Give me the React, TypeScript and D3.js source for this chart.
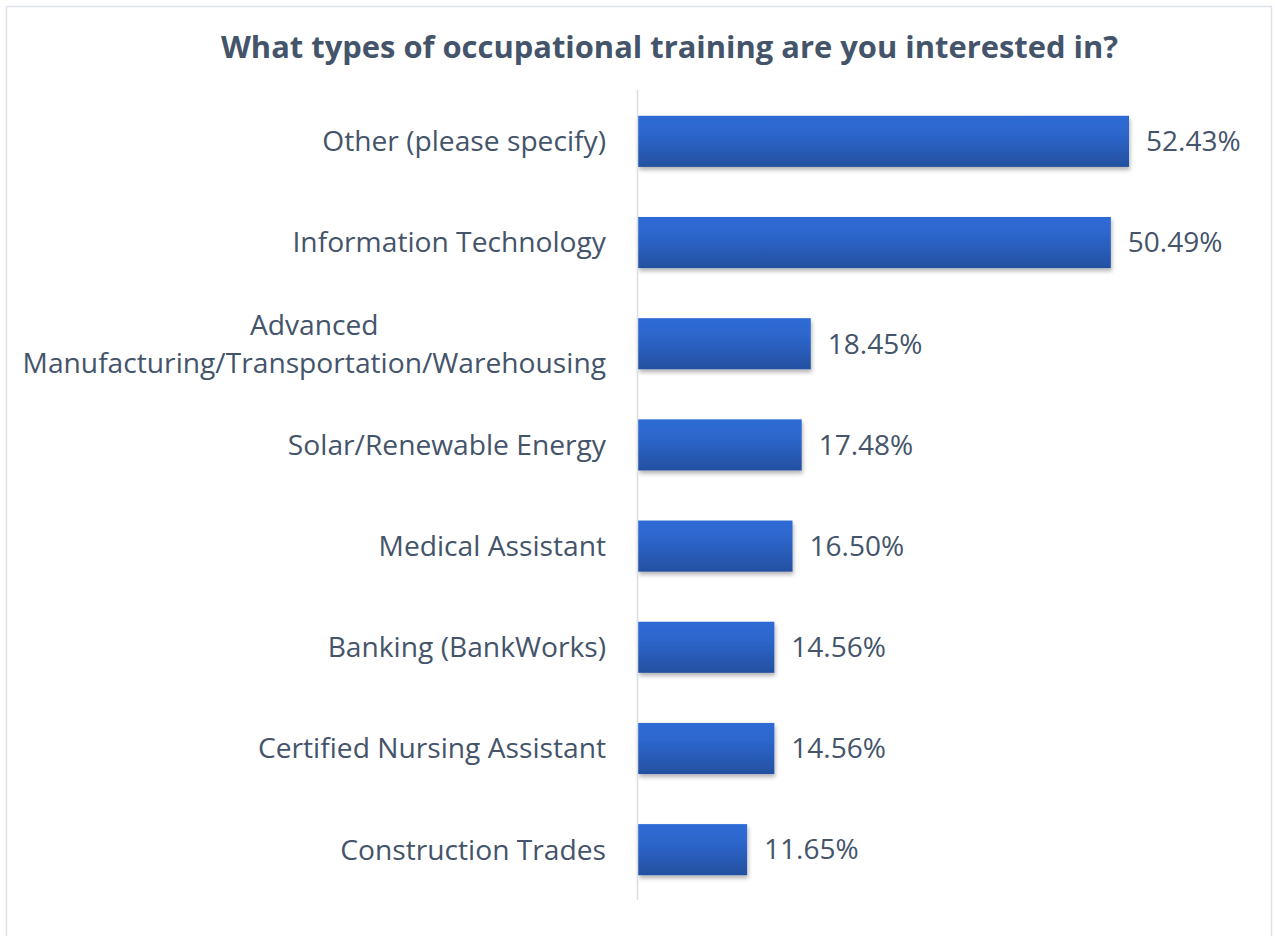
import React, { useEffect, useRef } from 'react';
import * as d3 from 'd3';

const categories = [
  'Other (please specify)',
  'Information Technology',
  'Advanced\nManufacturing/Transportation/Warehousing',
  'Solar/Renewable Energy',
  'Medical Assistant',
  'Banking (BankWorks)',
  'Certified Nursing Assistant',
  'Construction Trades',
];
const values = [52.43, 50.49, 18.45, 17.48, 16.5, 14.56, 14.56, 11.65];
const title = 'What types of occupational training are you interested in?';

const W = 1275;
const H = 936;
const FONT = '"Open Sans", Lato, sans-serif';
const TEXT = '#44546a';

const App = () => {
  const ref = useRef<SVGSVGElement>(null);

  useEffect(() => {
    const svg = d3.select(ref.current);
    svg.selectAll('*').remove();

    const defs = svg.append('defs');
    const grad = defs
      .append('linearGradient')
      .attr('id', 'barGrad')
      .attr('x1', 0)
      .attr('y1', 0)
      .attr('x2', 0)
      .attr('y2', 1);
    grad.append('stop').attr('offset', '0%').attr('stop-color', '#2f6bd6');
    grad.append('stop').attr('offset', '35%').attr('stop-color', '#2d66cc');
    grad.append('stop').attr('offset', '100%').attr('stop-color', '#2350a0');

    const shadow = defs
      .append('filter')
      .attr('id', 'shadow')
      .attr('x', '-5%')
      .attr('y', '-20%')
      .attr('width', '115%')
      .attr('height', '150%');
    shadow
      .append('feDropShadow')
      .attr('dx', 1)
      .attr('dy', 3)
      .attr('stdDeviation', 2)
      .attr('flood-color', '#000')
      .attr('flood-opacity', 0.3);

    // frame
    svg
      .append('rect')
      .attr('x', 6.5)
      .attr('y', 6.5)
      .attr('width', 1265)
      .attr('height', 940)
      .attr('fill', '#fff')
      .attr('stroke', '#dde2ea')
      .attr('stroke-width', 1.5);

    svg
      .append('text')
      .attr('x', 669.5)
      .attr('y', 58)
      .attr('text-anchor', 'middle')
      .style('font-family', FONT)
      .style('font-size', '30.9px')
      .style('font-weight', 'bold')
      .style('fill', TEXT)
      .text(title);

    const x0 = 638;
    const x = d3.scaleLinear().domain([0, 52.43]).range([x0, 1129]);
    const y = d3
      .scaleBand<string>()
      .domain(categories)
      .range([90.5, 900.5])
      .paddingInner(0.495)
      .paddingOuter(0.25);

    const g = svg.append('g');

    g.selectAll('rect.bar')
      .data(values)
      .enter()
      .append('rect')
      .attr('class', 'bar')
      .attr('x', x0)
      .attr('y', (d, i) => y(categories[i])!)
      .attr('width', (d) => x(d) - x0)
      .attr('height', y.bandwidth())
      .attr('fill', 'url(#barGrad)')
      .attr('filter', 'url(#shadow)');

    // axis line
    svg
      .append('line')
      .attr('x1', 637.5)
      .attr('x2', 637.5)
      .attr('y1', 90)
      .attr('y2', 900)
      .attr('stroke', '#d9dde4')
      .attr('stroke-width', 1.5);

    const labels = g
      .selectAll('text.cat')
      .data(categories)
      .enter()
      .append('text')
      .attr('class', 'cat')
      .style('font-family', FONT)
      .style('font-size', '28.2px')
      .style('fill', TEXT);

    labels.each(function (d) {
      const lines = d.split('\n');
      const cy = y(d)! + y.bandwidth() / 2;
      const t = d3.select(this);
      if (lines.length === 1) {
        t.attr('x', 606)
          .attr('y', cy)
          .attr('dy', '0.35em')
          .attr('text-anchor', 'end')
          .text(d);
      } else {
        t.attr('text-anchor', 'end');
        const lh = 38;
        lines.forEach((line, i) => {
          t.append('tspan')
            .attr('x', 606)
            .attr('y', cy + (i - (lines.length - 1) / 2) * lh)
            .attr('dy', '0.35em')
            .text(line);
        });
        // center lines relative to each other
        const tspans = t.selectAll<SVGTSpanElement, unknown>('tspan').nodes();
        const widths = tspans.map((n) => n.getComputedTextLength());
        const maxW = d3.max(widths) || 0;
        tspans.forEach((n, i) => {
          d3.select(n).attr('x', 606 - (maxW - widths[i]) / 2);
        });
      }
    });

    g.selectAll('text.val')
      .data(values)
      .enter()
      .append('text')
      .attr('class', 'val')
      .attr('x', (d) => x(d) + 17)
      .attr('y', (d, i) => y(categories[i])! + y.bandwidth() / 2)
      .attr('dy', '0.35em')
      .style('font-family', FONT)
      .style('font-size', '28px')
      .style('fill', TEXT)
      .text((d) => d.toFixed(2) + '%');
  }, []);

  return (
    <svg
      ref={ref}
      width={W}
      height={H}
      style={{ position: 'absolute', left: 0, top: 0, background: '#fff' }}
    />
  );
};

export default App;
